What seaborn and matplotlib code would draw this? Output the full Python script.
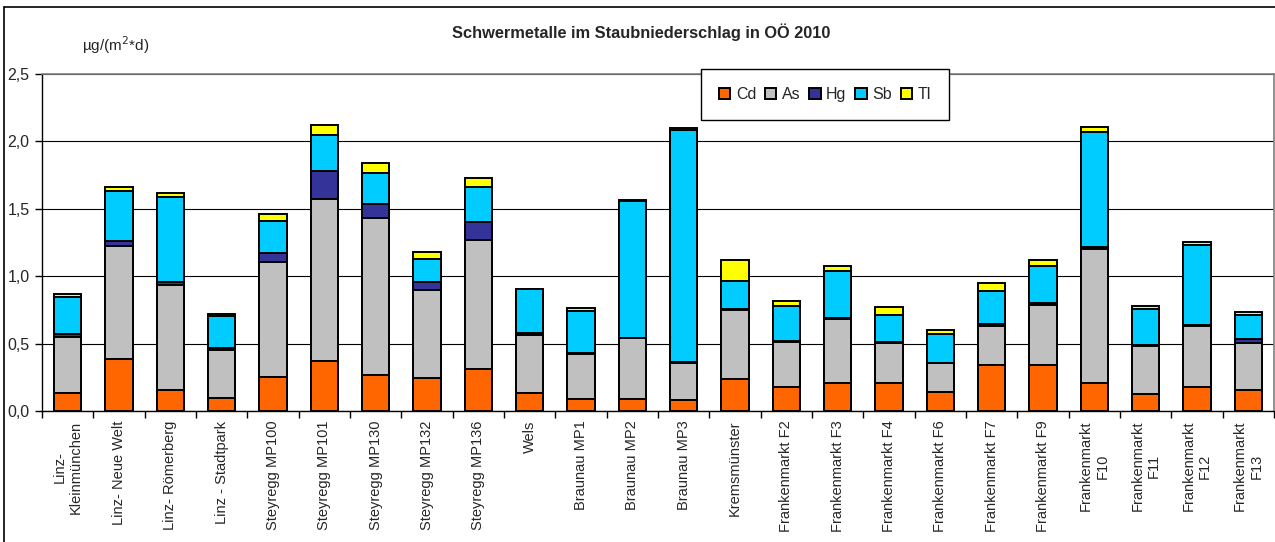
import numpy as np
import pandas as pd
import matplotlib.pyplot as plt
import seaborn as sns
from matplotlib.patches import Patch
from matplotlib.lines import Line2D
from matplotlib.ticker import FuncFormatter, MultipleLocator

# %% data (µg/(m²*d))
sites = [
    "Linz-\nKleinmünchen", "Linz- Neue Welt", "Linz- Römerberg", "Linz - Stadtpark",
    "Steyregg MP100", "Steyregg MP101", "Steyregg MP130", "Steyregg MP132",
    "Steyregg MP136", "Wels", "Braunau MP1", "Braunau MP2", "Braunau MP3",
    "Kremsmünster", "Frankenmarkt F2", "Frankenmarkt F3", "Frankenmarkt F4",
    "Frankenmarkt F6", "Frankenmarkt F7", "Frankenmarkt F9", "Frankenmarkt\nF10",
    "Frankenmarkt\nF11", "Frankenmarkt\nF12", "Frankenmarkt\nF13",
]
cd = [0.136, 0.388, 0.156, 0.094, 0.254, 0.368, 0.264, 0.247, 0.314, 0.136, 0.091, 0.091,
      0.084, 0.240, 0.180, 0.205, 0.210, 0.143, 0.341, 0.341, 0.205, 0.128, 0.180, 0.153]
as_ = [0.414, 0.835, 0.778, 0.361, 0.850, 1.206, 1.166, 0.650, 0.958, 0.427, 0.334, 0.448,
       0.274, 0.509, 0.331, 0.474, 0.296, 0.210, 0.289, 0.449, 0.998, 0.354, 0.450, 0.348]
hg = [0.018, 0.037, 0.024, 0.014, 0.069, 0.210, 0.107, 0.061, 0.131, 0.013, 0.007, 0.004,
      0.005, 0.009, 0.008, 0.008, 0.005, 0.005, 0.012, 0.010, 0.015, 0.010, 0.005, 0.030]
sb = [0.277, 0.375, 0.628, 0.235, 0.237, 0.266, 0.227, 0.168, 0.257, 0.326, 0.309, 1.013,
      1.724, 0.203, 0.259, 0.353, 0.198, 0.213, 0.247, 0.275, 0.852, 0.261, 0.598, 0.180]
tl = [0.020, 0.025, 0.032, 0.012, 0.050, 0.072, 0.074, 0.052, 0.069, 0.005, 0.020, 0.010,
      0.010, 0.158, 0.035, 0.037, 0.062, 0.027, 0.060, 0.044, 0.035, 0.023, 0.022, 0.023]

metals = ["Cd", "As", "Hg", "Sb", "Tl"]
colors = {"Cd": "#FF6600", "As": "#C0C0C0", "Hg": "#333399", "Sb": "#00CCFF", "Tl": "#FFFF00"}

df = pd.DataFrame({"site": sites, "Cd": cd, "As": as_, "Hg": hg, "Sb": sb, "Tl": tl})
cum = df[metals].cumsum(axis=1)

# %% figure
sns.set_theme(style="white")
plt.rcParams["font.family"] = ["Liberation Sans", "DejaVu Sans"]

W, H = 1275, 542
fig = plt.figure(figsize=(W / 100, H / 100), dpi=100)
ax = fig.add_axes([42 / W, 1 - 411 / H, (1274 - 42) / W, (411 - 74) / H])

# stacked bars: draw cumulative totals from the top segment down
for m in reversed(metals):
    sns.barplot(x=df["site"], y=cum[m], order=sites, color=colors[m], saturation=1,
                width=0.53, edgecolor="black", linewidth=1.4, errorbar=None,
                ax=ax, zorder=3)

ax.set_ylim(0, 2.5)
ax.set_xlim(-0.5, len(sites) - 0.5)
ax.set_xlabel("")
ax.set_ylabel("")
ax.yaxis.set_major_locator(MultipleLocator(0.5))
ax.yaxis.set_major_formatter(FuncFormatter(lambda v, _: f"{v:.1f}".replace(".", ",")))
ax.grid(axis="y", color="black", linewidth=0.8, zorder=0)
ax.set_axisbelow(True)

ax.set_xticks(range(len(sites)))
ax.set_xticklabels(sites, rotation=90, ha="center", va="top", multialignment="center",
                   fontsize=10.5)
ax.set_xticks(np.arange(-0.5, len(sites), 1), minor=True)
ax.tick_params(axis="x", which="major", length=0, pad=7)
ax.tick_params(axis="x", which="minor", length=5, width=1, color="black", direction="out",
               bottom=True)
ax.tick_params(axis="y", length=5, width=1, color="black", direction="out", left=True,
               labelsize=11.5, pad=4)

for side in ["top", "right"]:
    ax.spines[side].set_color("#808080")
    ax.spines[side].set_linewidth(1.2)
for side in ["left", "bottom"]:
    ax.spines[side].set_color("black")
    ax.spines[side].set_linewidth(1)

# texts
fig.text(641 / W, 1 - 32 / H, "Schwermetalle im Staubniederschlag in OÖ 2010",
         ha="center", va="center", fontsize=11.8, fontweight="bold")
fig.text(82 / W, 1 - 45 / H, "µg/(m$^2$*d)", ha="left", va="center", fontsize=11)

# legend
handles = [Patch(facecolor=colors[m], edgecolor="black", linewidth=1.4) for m in metals]
leg = fig.legend(handles, metals, loc="center", bbox_to_anchor=(825 / W, 1 - 94.5 / H),
                 ncol=5, frameon=True, fancybox=False, edgecolor="black", framealpha=1,
                 fontsize=11.5, handlelength=0.7, handleheight=0.7, handletextpad=0.35,
                 columnspacing=0.55, borderpad=1.15, borderaxespad=0)
leg.get_frame().set_linewidth(1)

# outer chart border (cropped on right and bottom in the original)
fig.add_artist(Line2D([4 / W, 1], [1 - 7 / H, 1 - 7 / H], color="black", linewidth=1.2))
fig.add_artist(Line2D([4 / W, 4 / W], [0, 1 - 7 / H], color="black", linewidth=1.2))

fig.savefig("out.png", dpi=100)
